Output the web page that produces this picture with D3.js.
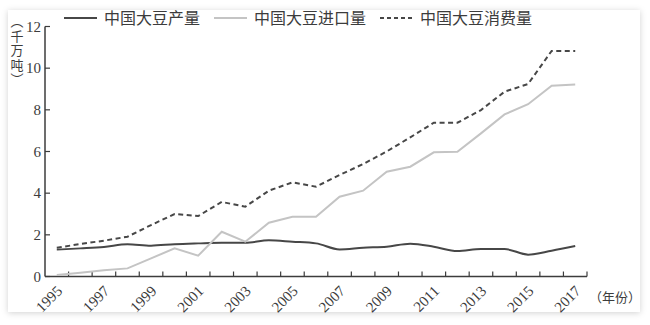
<!DOCTYPE html>
<html>
<head>
<meta charset="utf-8">
<script src="https://cdn.jsdelivr.net/npm/d3@7"></script>
<style>
  html, body { margin: 0; padding: 0; background: #ffffff; }
  svg { display: block; }
</style>
</head>
<body>
<svg id="chart" width="650" height="325"></svg>
<script>
// Chinese soybean production, imports and consumption, 1995–2017 (10 million tonnes)
const years = d3.range(1995, 2018);
const production  = [1.29, 1.35, 1.42, 1.55, 1.48, 1.55, 1.59, 1.62, 1.62, 1.74, 1.67, 1.59, 1.30, 1.38, 1.43, 1.57, 1.43, 1.22, 1.32, 1.32, 1.05, 1.24, 1.46];
const imports     = [0.07, 0.18, 0.30, 0.39, 0.87, 1.35, 1.00, 2.15, 1.67, 2.58, 2.87, 2.87, 3.83, 4.12, 5.03, 5.27, 5.96, 5.99, 6.87, 7.78, 8.27, 9.16, 9.22];
const consumption = [1.38, 1.56, 1.72, 1.91, 2.47, 3.00, 2.90, 3.58, 3.35, 4.12, 4.52, 4.31, 4.87, 5.40, 6.00, 6.68, 7.38, 7.38, 7.99, 8.87, 9.24, 10.83, 10.83];
const yTicks = [0, 2, 4, 6, 8, 10, 12];
const xLabelYears = d3.range(1995, 2018, 2);
const seriesNames = ["中国大豆产量", "中国大豆进口量", "中国大豆消费量"];

const svg = d3.select("#chart");
const cjk = "'Noto Sans CJK SC', 'Noto Sans', sans-serif";
const serif = "'Liberation Serif', 'DejaVu Serif', serif";

// card with soft shadow
const defs = svg.append("defs");
const f = defs.append("filter").attr("id", "shadow")
  .attr("x", "-5%").attr("y", "-5%").attr("width", "110%").attr("height", "110%");
f.append("feDropShadow").attr("dx", 0).attr("dy", 1).attr("stdDeviation", 3)
  .attr("flood-color", "#000").attr("flood-opacity", 0.18);
svg.append("rect").attr("x", 8).attr("y", 10).attr("width", 632).attr("height", 302)
  .attr("fill", "#fff").attr("filter", "url(#shadow)");

const plotLeft = 45, plotRight = 587, plotTop = 26.5, plotBottom = 276.5;

const x = d3.scaleBand().domain(years).range([plotLeft, plotRight]).paddingInner(0).paddingOuter(0);
const y = d3.scaleLinear().domain([0, 12]).range([plotBottom, plotTop]);
const cx = d => x(d) + x.bandwidth() / 2;

const ink = "#3c3c3c";

// x axis: ticks at band boundaries, pointing up
const xg = svg.append("g");
xg.append("line").attr("x1", plotLeft).attr("x2", plotRight).attr("y1", plotBottom).attr("y2", plotBottom)
  .attr("stroke", ink).attr("stroke-width", 1.5);
xg.selectAll("line.tick").data(years).enter().append("line").attr("class", "tick")
  .attr("x1", d => x(d) + x.bandwidth()).attr("x2", d => x(d) + x.bandwidth())
  .attr("y1", plotBottom).attr("y2", plotBottom - 5)
  .attr("stroke", ink).attr("stroke-width", 1.2);
xg.selectAll("text").data(xLabelYears).enter().append("text")
  .attr("transform", d => `translate(${cx(d) - 1},${plotBottom + 8}) rotate(-45)`)
  .attr("text-anchor", "end").attr("dy", "0.7em")
  .attr("font-family", serif).attr("font-size", 15).attr("fill", ink)
  .text(d => d);
svg.append("text").attr("x", 589).attr("y", 302)
  .attr("font-family", cjk).attr("font-size", 13).attr("fill", ink)
  .text("（年份）");

// y axis: ticks pointing right
const yg = svg.append("g");
yg.append("line").attr("x1", plotLeft).attr("x2", plotLeft).attr("y1", plotTop).attr("y2", plotBottom)
  .attr("stroke", ink).attr("stroke-width", 1.5);
yg.selectAll("line.tick").data(yTicks).enter().append("line").attr("class", "tick")
  .attr("x1", plotLeft).attr("x2", plotLeft + 5).attr("y1", d => y(d)).attr("y2", d => y(d))
  .attr("stroke", ink).attr("stroke-width", 1.2);
yg.selectAll("text").data(yTicks).enter().append("text")
  .attr("x", plotLeft - 4).attr("y", d => y(d)).attr("dy", "0.35em")
  .attr("text-anchor", "end")
  .attr("font-family", serif).attr("font-size", 15).attr("fill", ink)
  .text(d => d);

// vertical unit label, set top-to-bottom
svg.append("text")
  .attr("x", 17).attr("y", 15)
  .style("writing-mode", "vertical-rl")
  .attr("letter-spacing", 1.5)
  .attr("font-family", cjk).attr("font-size", 13).attr("fill", ink)
  .text("（千万吨）");

// lines
const styles = [
  { data: production,  color: "#474747", dash: null,  curve: d3.curveMonotoneX },
  { data: imports,     color: "#c4c4c4", dash: null,  curve: d3.curveLinear },
  { data: consumption, color: "#474747", dash: "5,3.5", curve: d3.curveLinear }
];
styles.forEach(s => {
  const line = d3.line().x((d, i) => cx(years[i])).y(d => y(d)).curve(s.curve);
  svg.append("path").datum(s.data)
    .attr("d", line).attr("fill", "none")
    .attr("stroke", s.color).attr("stroke-width", 2)
    .attr("stroke-dasharray", s.dash);
});

// legend
const legendX = [64, 214, 380];
const legendY = 18;
const lg = svg.selectAll("g.legend").data(styles).enter().append("g").attr("class", "legend")
  .attr("transform", (d, i) => `translate(${legendX[i]},${legendY})`);
lg.append("line").attr("x1", 0).attr("x2", 33).attr("y1", 0).attr("y2", 0)
  .attr("stroke", d => d.color).attr("stroke-width", 2)
  .attr("stroke-dasharray", d => d.dash ? "4,3" : null);
lg.append("text").attr("x", 40).attr("y", 0).attr("dy", "0.35em")
  .attr("font-family", cjk).attr("font-size", 16).attr("fill", ink)
  .text((d, i) => seriesNames[i]);
</script>
</body>
</html>
